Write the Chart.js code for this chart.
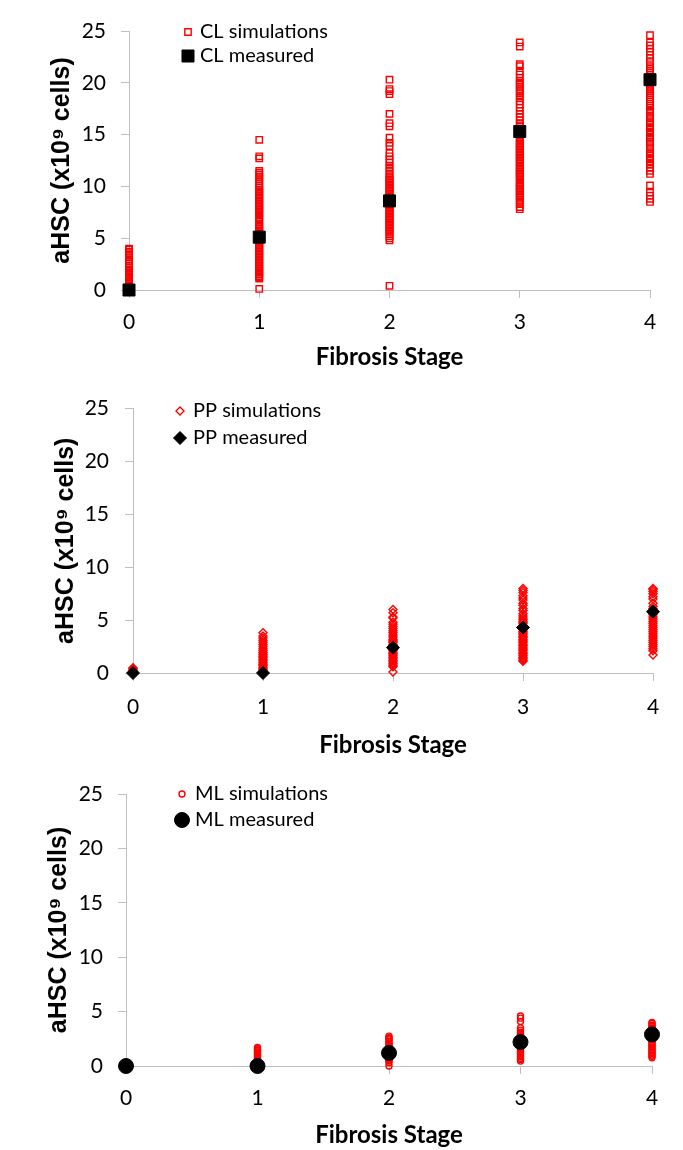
<!DOCTYPE html>
<html>
<head>
<meta charset="utf-8">
<script src="https://cdn.jsdelivr.net/npm/chart.js@4.4.1/dist/chart.umd.min.js"></script>
<style>
  body { margin: 0; background: #fff; }
  .wrap { position: absolute; left: 0; width: 683px; }
</style>
</head>
<body>
<div class="wrap" style="top:0"><canvas id="clChart" width="683" height="380"></canvas></div>
<div class="wrap" style="top:380px"><canvas id="ppChart" width="683" height="385"></canvas></div>
<div class="wrap" style="top:765px"><canvas id="mlChart" width="683" height="385"></canvas></div>
<script>
const stages = [0, 1, 2, 3, 4];
const yMin = 0, yMax = 25, yStep = 5;

// CL panel
const clSim0 = [0.0, 0.05, 0.15, 0.3, 0.4, 0.55, 0.7, 0.8, 0.95, 1.05, 1.2, 1.3, 1.45, 1.55, 1.7, 1.85, 1.95, 2.15, 2.35, 2.6, 2.8, 2.95, 3.15, 3.35, 3.55, 3.7, 3.9, 4.0];
const clSim1 = [0.1, 1.1, 1.2, 1.35, 1.5, 1.65, 1.8, 1.9, 2.05, 2.2, 2.35, 2.5, 2.65, 2.8, 2.95, 3.1, 3.25, 3.4, 3.55, 3.7, 3.85, 4.0, 4.15, 4.3, 4.45, 4.6, 4.75, 4.9, 5.3, 5.45, 5.6, 5.75, 5.9, 6.05, 6.2, 6.35, 6.7, 6.9, 7.05, 7.2, 7.4, 7.6, 7.75, 7.9, 8.05, 8.2, 8.35, 8.5, 8.65, 8.8, 8.95, 9.1, 9.25, 9.4, 9.55, 9.7, 9.9, 10.1, 10.3, 10.5, 10.7, 10.9, 11.1, 11.3, 11.5, 12.7, 12.9, 14.5];
const clSim2 = [0.4, 4.8, 5.0, 5.2, 5.4, 5.6, 5.75, 5.9, 6.05, 6.2, 6.35, 6.5, 6.65, 6.8, 6.95, 7.1, 7.25, 7.4, 7.55, 7.7, 7.85, 8.0, 8.15, 8.3, 8.45, 9.0, 9.15, 9.3, 9.45, 9.6, 9.75, 9.9, 10.05, 10.2, 10.35, 10.5, 10.65, 10.8, 11.0, 11.2, 11.5, 11.8, 12.0, 12.3, 12.6, 12.9, 13.2, 13.9, 14.2, 14.7, 15.8, 16.1, 17.0, 18.9, 19.2, 19.4, 20.3];
const clSim3 = [7.8, 8.0, 8.3, 8.5, 8.7, 8.9, 9.05, 9.2, 9.35, 9.5, 9.65, 9.8, 9.95, 10.1, 10.25, 10.4, 10.6, 10.8, 10.95, 11.1, 11.25, 11.4, 11.55, 11.7, 11.85, 12.0, 12.2, 12.35, 12.5, 12.65, 12.8, 12.95, 13.1, 13.25, 13.4, 13.55, 13.7, 13.85, 14.0, 14.15, 14.3, 14.5, 14.7, 14.9, 15.6, 15.9, 16.1, 16.4, 16.7, 17.0, 17.3, 17.6, 17.9, 18.2, 18.5, 18.7, 19.0, 19.2, 19.4, 19.6, 19.8, 20.0, 20.2, 20.5, 20.8, 21.1, 21.6, 21.8, 23.5, 23.9];
const clSim4 = [8.5, 8.8, 9.1, 9.4, 10.1, 11.2, 11.5, 11.8, 12.1, 12.3, 12.6, 12.8, 13.1, 13.3, 13.6, 13.8, 14.1, 14.3, 14.6, 14.8, 15.1, 15.3, 15.6, 15.8, 16.1, 16.3, 16.6, 16.8, 17.1, 17.3, 17.6, 17.8, 18.0, 18.2, 18.4, 18.6, 18.8, 19.0, 19.2, 19.4, 19.6, 19.8, 20.0, 20.2, 20.4, 20.6, 20.8, 21.0, 21.2, 21.4, 21.6, 22.0, 22.4, 22.7, 23.0, 23.3, 23.6, 23.9, 24.6];
const clMeasured = [0, 5.1, 8.6, 15.3, 20.3];

// PP panel
const ppSim0 = [0.0, 0.1, 0.2, 0.3, 0.4, 0.5];
const ppSim1 = [0.0, 0.1, 0.2, 0.3, 0.45, 0.55, 0.7, 0.8, 0.95, 1.05, 1.2, 1.3, 1.45, 1.55, 1.7, 1.8, 1.95, 2.1, 2.3, 2.5, 2.7, 2.9, 3.1, 3.3, 3.5, 3.8];
const ppSim2 = [0.1, 0.6, 0.7, 0.85, 0.95, 1.1, 1.2, 1.35, 1.45, 1.6, 1.7, 1.85, 1.95, 2.1, 2.2, 2.35, 2.6, 2.7, 2.85, 2.95, 3.1, 3.2, 3.4, 3.6, 3.8, 4.0, 4.2, 4.4, 4.6, 4.8, 5.2, 5.3, 5.7, 6.0];
const ppSim3 = [1.1, 1.2, 1.35, 1.45, 1.6, 1.7, 1.85, 1.95, 2.1, 2.2, 2.35, 2.45, 2.6, 2.7, 2.85, 2.95, 3.1, 3.2, 3.35, 3.45, 3.6, 3.7, 3.85, 3.95, 4.1, 4.5, 4.65, 4.8, 4.9, 5.05, 5.2, 5.4, 5.6, 5.9, 6.1, 6.4, 6.6, 6.9, 7.1, 7.3, 7.6, 7.8, 8.0];
const ppSim4 = [1.7, 2.1, 2.3, 2.5, 2.7, 2.9, 3.1, 3.3, 3.5, 3.7, 3.9, 4.1, 4.3, 4.5, 4.7, 4.9, 5.1, 5.3, 5.5, 6.1, 6.3, 6.6, 7.0, 7.2, 7.5, 7.7, 7.9, 8.0];
const ppMeasured = [0, 0, 2.4, 4.3, 5.8];

// ML panel
const mlSim0 = [0.0, 0.05, 0.1, 0.15, 0.2];
const mlSim1 = [0.0, 0.1, 0.2, 0.3, 0.4, 0.5, 0.6, 0.7, 0.8, 0.9, 1.0, 1.1, 1.2, 1.3, 1.4, 1.5, 1.6, 1.7];
const mlSim2 = [0.0, 0.3, 0.45, 0.55, 0.7, 0.8, 0.95, 1.5, 1.6, 1.75, 1.85, 2.0, 2.1, 2.25, 2.4, 2.5, 2.6, 2.75];
const mlSim3 = [0.45, 0.6, 0.7, 0.85, 0.95, 1.1, 1.2, 1.35, 1.45, 1.6, 1.7, 1.85, 2.6, 2.7, 2.85, 2.95, 3.1, 3.3, 3.5, 4.1, 4.4, 4.6];
const mlSim4 = [0.75, 0.9, 1.0, 1.15, 1.25, 1.4, 1.5, 1.65, 1.75, 1.9, 2.0, 2.15, 2.25, 3.4, 3.5, 3.65, 3.75, 3.9, 4.0];
const mlMeasured = [0, 0, 1.2, 2.2, 2.9];

const xTitle = 'Fibrosis Stage';
const yTitle = 'aHSC (x10\u2079 cells)';

function simPoints(columns) {
  const pts = [];
  columns.forEach((col, i) => col.forEach(v => pts.push({ x: stages[i], y: v })));
  return pts;
}

function measuredPoints(vals) {
  return vals.map((v, i) => ({ x: stages[i], y: v }));
}

// legend drawn inside the plot, like the excel one
const insideLegend = {
  id: 'insideLegend',
  afterDraw(chart, args, opts) {
    const ctx = chart.ctx;
    ctx.save();
    chart.data.datasets.forEach((ds, i) => {
      const y = opts.y + i * opts.gap;
      ctx.fillStyle = ds.pointBackgroundColor;
      ctx.strokeStyle = ds.pointBorderColor;
      ctx.lineWidth = ds.pointBorderWidth;
      Chart.helpers.drawPoint(ctx, {
        pointStyle: ds.pointStyle,
        radius: ds.pointRadius,
        borderWidth: ds.pointBorderWidth,
        rotation: 0
      }, opts.markerX, y);
      ctx.fillStyle = '#000';
      ctx.font = '20px Lato';
      ctx.textAlign = 'left';
      ctx.textBaseline = 'middle';
      ctx.fillText(ds.label, opts.textX, y);
    });
    ctx.restore();
  }
};

function makeChart(id, p) {
  return new Chart(document.getElementById(id), {
    type: 'scatter',
    data: {
      datasets: [{
        label: p.simLabel,
        data: simPoints(p.sims),
        pointStyle: p.style,
        pointRadius: p.simR,
        pointHoverRadius: p.simR,
        pointBorderWidth: 1.4,
        pointBorderColor: '#ff0000',
        pointBackgroundColor: 'rgba(255,255,255,0)',
        clip: false,
        order: 1
      }, {
        label: p.measLabel,
        data: measuredPoints(p.measured),
        pointStyle: p.style,
        pointRadius: p.measR,
        pointHoverRadius: p.measR,
        pointBorderWidth: 1,
        pointBorderColor: '#000',
        pointBackgroundColor: '#000',
        clip: false,
        order: 0
      }]
    },
    options: {
      responsive: false,
      animation: false,
      layout: { padding: { top: p.top, right: p.right, bottom: 0, left: 0 } },
      plugins: {
        legend: { display: false },
        tooltip: { enabled: false },
        insideLegend: p.legend
      },
      scales: {
        x: {
          type: 'linear',
          min: stages[0],
          max: stages[stages.length - 1],
          afterFit: s => { s.height = p.xH; },
          ticks: { stepSize: 1, color: '#000', padding: p.xPad, font: { family: 'Lato', size: 21 } },
          grid: { drawOnChartArea: false, color: '#bfbfbf', tickLength: 8 },
          border: { color: '#bfbfbf' },
          title: {
            display: true, text: xTitle, color: '#000',
            font: { family: 'Lato', size: 24, weight: 'bold' },
            padding: { top: 0, bottom: p.titlePad }
          }
        },
        y: {
          min: yMin,
          max: yMax,
          afterFit: s => { s.width = p.left; },
          ticks: { stepSize: yStep, color: '#000', padding: p.yPad, font: { family: 'Lato', size: 21 } },
          grid: { drawOnChartArea: false, color: '#bfbfbf', tickLength: 8 },
          border: { color: '#bfbfbf' },
          title: {
            display: true, text: yTitle, color: '#000',
            font: { family: 'Liberation Sans', size: 25, weight: 'bold' },
            padding: { top: p.left - 82, bottom: 0 }
          }
        }
      }
    },
    plugins: [insideLegend]
  });
}

makeChart('clChart', {
  simLabel: 'CL simulations', measLabel: 'CL measured',
  sims: [clSim0, clSim1, clSim2, clSim3, clSim4], measured: clMeasured,
  style: 'rect', simR: 4.5, measR: 8.5,
  top: 31, right: 33, left: 129, xH: 90, xPad: 12, yPad: 15, titlePad: 8,
  legend: { markerX: 188, textX: 200, y: 32, gap: 24 }
});

makeChart('ppChart', {
  simLabel: 'PP simulations', measLabel: 'PP measured',
  sims: [ppSim0, ppSim1, ppSim2, ppSim3, ppSim4], measured: ppMeasured,
  style: 'rectRot', simR: 4, measR: 6.5,
  top: 15, right: 30, left: 133, xH: 92, xPad: 14, yPad: 16, titlePad: 5,
  legend: { markerX: 180, textX: 193, y: 31, gap: 27 }
});

makeChart('mlChart', {
  simLabel: 'ML simulations', measLabel: 'ML measured',
  sims: [mlSim0, mlSim1, mlSim2, mlSim3, mlSim4], measured: mlMeasured,
  style: 'circle', simR: 3, measR: 7.5,
  top: 29, right: 31, left: 126, xH: 84, xPad: 12, yPad: 15, titlePad: 0,
  legend: { markerX: 182, textX: 195, y: 29, gap: 26 }
});
</script>
</body>
</html>
